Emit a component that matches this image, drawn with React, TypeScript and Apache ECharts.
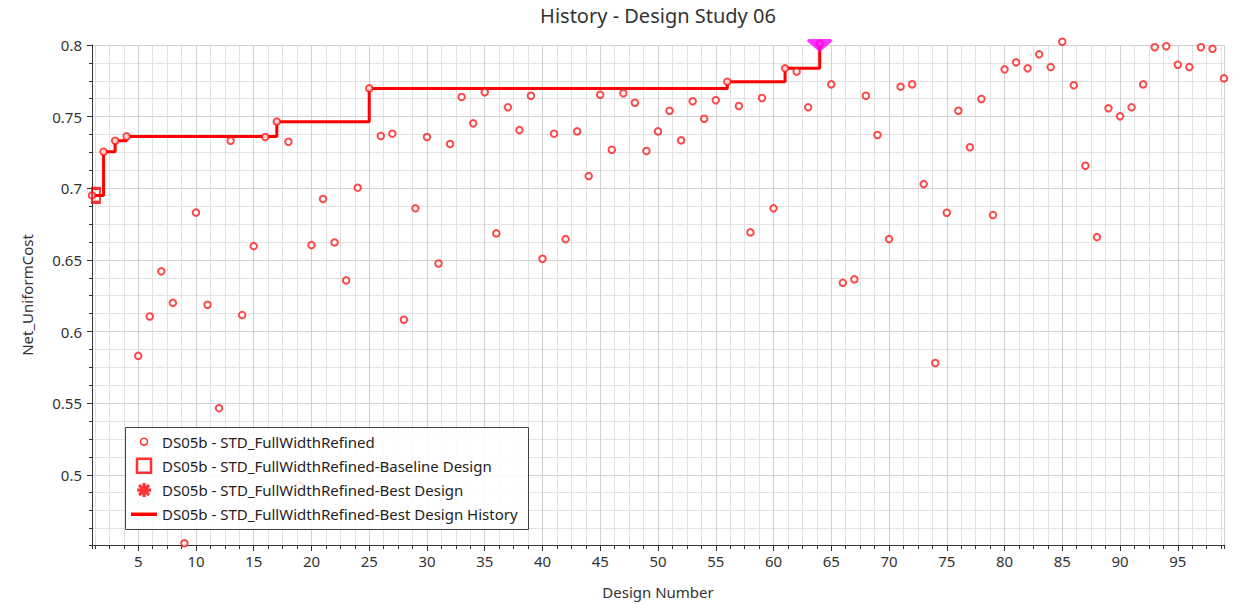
import React, { useEffect, useRef } from 'react';
import * as echarts from 'echarts';

// Net_UniformCost for design numbers 1..99 (index 0 -> design 1)
const netUniformCost = [
  0.695, 0.7255, 0.7332, 0.7362, 0.583, 0.6105, 0.642, 0.620, 0.4522, 0.683,
  0.6187, 0.5465, 0.7332, 0.6115, 0.6596, 0.7358, 0.7465, 0.7325, 0.4923, 0.6603,
  0.6925, 0.6622, 0.6357, 0.7004, 0.7697, 0.7365, 0.7381, 0.6082, 0.686, 0.7358,
  0.6475, 0.7309, 0.7637, 0.7453, 0.767, 0.6685, 0.7565, 0.7406, 0.7646, 0.6508,
  0.7381, 0.6645, 0.7397, 0.7085, 0.7653, 0.7269, 0.7663, 0.7597, 0.726, 0.7397,
  0.7541, 0.7334, 0.7607, 0.7485, 0.7614, 0.7744, 0.7574, 0.6692, 0.763, 0.686,
  0.7837, 0.7814, 0.7565, 0.801, 0.7725, 0.634, 0.6364, 0.7646, 0.7372, 0.6645,
  0.7709, 0.7725, 0.7029, 0.578, 0.6829, 0.7541, 0.7286, 0.7623, 0.6813, 0.783,
  0.7879, 0.7837, 0.7935, 0.7846, 0.8023, 0.7719, 0.7157, 0.6659, 0.7558, 0.7502,
  0.7565, 0.7725, 0.7984, 0.7991, 0.7862, 0.7846, 0.7984, 0.7974, 0.7767,
];

// designs where the best value improved
const bestHistoryDesigns = [1, 2, 3, 4, 17, 25, 56, 61, 64];
const baselineDesign = 1;
const bestDesign = 64;

const seriesNames = [
  'DS05b - STD_FullWidthRefined',
  'DS05b - STD_FullWidthRefined-Baseline Design',
  'DS05b - STD_FullWidthRefined-Best Design',
  'DS05b - STD_FullWidthRefined-Best Design History',
];

const titleText = 'History - Design Study 06';
const xAxisName = 'Design Number';
const yAxisName = 'Net_UniformCost';

const FONT = '"Noto Sans", sans-serif';
const RED = '#ff0000';

export default function App() {
  const ref = useRef<HTMLDivElement>(null);

  useEffect(() => {
    const chart = echarts.init(ref.current as HTMLDivElement, null, { renderer: 'svg' });

    const designData = netUniformCost.map((v, i) => [i + 1, v]);
    const baselineData = [[baselineDesign, netUniformCost[baselineDesign - 1]]];
    const bestData = [[bestDesign, netUniformCost[bestDesign - 1]]];
    const historyData = bestHistoryDesigns.map((d) => [d, netUniformCost[d - 1]]);

    const gridTop = 45;
    const gridBottom = 59;
    const gridLeft = 92;
    const gridRight = 11;
    const gridH = 604 - gridTop - gridBottom;
    const gridW = 1235 - gridLeft - gridRight;

    const legendCommon = {
      orient: 'vertical',
      padding: 0,
      itemGap: 0,
      itemWidth: 26,
      selectedMode: false,
      z: 10,
      textStyle: { fontSize: 15, color: '#1e1e1e', lineHeight: 17, fontFamily: FONT },
    };

    const option: any = {
      animation: false,
      backgroundColor: '#ffffff',
      title: {
        text: titleText,
        left: 653,
        top: 0,
        textAlign: 'center',
        textStyle: { fontSize: 20, fontWeight: 'normal', color: '#333', fontFamily: FONT },
      },
      grid: { left: gridLeft, right: gridRight, top: gridTop, bottom: gridBottom, containLabel: false },
      xAxis: [
        {
          type: 'value',
          min: 1,
          max: 99,
          splitNumber: 20,
          minInterval: 5,
          maxInterval: 5,
          z: 1,
          name: xAxisName,
          nameLocation: 'middle',
          nameGap: 39,
          nameTextStyle: { fontSize: 15, color: '#333', fontFamily: FONT },
          axisLine: { show: true, onZero: false, lineStyle: { color: '#333', width: 1 } },
          axisTick: { show: true, length: 6, lineStyle: { color: '#333' } },
          axisLabel: { fontSize: 15, color: '#333', margin: 8, fontFamily: FONT, showMinLabel: false, showMaxLabel: false },
          splitLine: { show: true, lineStyle: { color: '#d0d0d0', width: 1 } },
        },
        {
          type: 'value',
          min: 1,
          max: 99,
          splitNumber: 80,
          minInterval: 1.25,
          maxInterval: 1.25,
          position: 'top',
          offset: -gridH,
          z: 0,
          axisLine: { show: false, onZero: false },
          axisTick: { show: true, inside: true, length: 4, lineStyle: { color: '#333' } },
          axisLabel: { show: false },
          splitLine: { show: true, lineStyle: { color: '#e2e2e2', width: 1 } },
        },
      ],
      yAxis: [
        {
          type: 'value',
          min: 0.451,
          max: 0.8,
          splitNumber: 7,
          minInterval: 0.05,
          maxInterval: 0.05,
          z: 1,
          name: yAxisName,
          nameLocation: 'middle',
          nameRotate: 90,
          nameGap: 58,
          nameTextStyle: { fontSize: 15, color: '#333', fontFamily: FONT },
          axisLine: { show: true, onZero: false, lineStyle: { color: '#333', width: 1 } },
          axisTick: { show: true, length: 5, lineStyle: { color: '#333' } },
          axisLabel: { fontSize: 15, color: '#333', margin: 10, fontFamily: FONT, showMinLabel: false },
          splitLine: { show: true, lineStyle: { color: '#d0d0d0', width: 1 } },
        },
        {
          type: 'value',
          min: 0.451,
          max: 0.8,
          splitNumber: 28,
          minInterval: 0.0125,
          maxInterval: 0.0125,
          position: 'right',
          offset: -gridW,
          z: 0,
          axisLine: { show: false, onZero: false },
          axisTick: { show: true, inside: true, length: 3, lineStyle: { color: '#333' } },
          axisLabel: { show: false },
          splitLine: { show: true, lineStyle: { color: '#e2e2e2', width: 1 } },
        },
      ],
      legend: [
        {
          ...legendCommon,
          data: [seriesNames[0]],
          left: 131 + 8.75,
          top: 441.7 - 8.5,
          itemHeight: 7,
          icon: 'circle',
          itemStyle: { color: '#ffffff', borderColor: RED, borderWidth: 1.5 },
        },
        {
          ...legendCommon,
          data: [seriesNames[1]],
          left: 131 + 4.75,
          top: 465.7 - 8.5,
          itemHeight: 14,
          icon: 'path://M0 0H14V14H0Z',
          itemStyle: { color: '#ffffff', borderColor: RED, borderWidth: 2.5 },
        },
        {
          ...legendCommon,
          data: [seriesNames[2]],
          left: 131 + 4.5,
          top: 490 - 8.5,
          itemHeight: 14,
          icon: 'path://M7 -1V15M-1 7H15M1.3 1.3L12.7 12.7M12.7 1.3L1.3 12.7',
          itemStyle: { color: RED, borderColor: RED, borderWidth: 3.2 },
        },
        {
          ...legendCommon,
          data: [seriesNames[3]],
          left: 131,
          top: 514.3 - 8.5,
          itemHeight: 3.5,
          icon: 'rect',
          itemStyle: { color: RED, borderWidth: 0 },
        },
      ],
      graphic: [
        {
          type: 'rect',
          z: 9,
          shape: { x: 125.5, y: 427.5, width: 403, height: 102 },
          style: { fill: 'rgba(255,255,255,0.86)', stroke: '#444', lineWidth: 1 },
        },
      ],
      series: [
        {
          name: seriesNames[3],
          type: 'line',
          step: 'end',
          data: historyData,
          symbol: 'none',
          clip: false,
          z: 2,
          lineStyle: { color: RED, width: 3 },
          itemStyle: { color: RED },
        },
        {
          name: seriesNames[0],
          type: 'scatter',
          data: designData,
          symbol: 'emptyCircle',
          symbolSize: 6.5,
          clip: false,
          z: 3,
          itemStyle: { color: '#ff1a1a', borderWidth: 1.3 },
        },
        {
          name: seriesNames[1],
          type: 'scatter',
          data: baselineData,
          symbol: 'rect',
          symbolSize: [8, 14],
          symbolOffset: [4, 0],
          clip: false,
          z: 4,
          itemStyle: { color: 'rgba(0,0,0,0)', borderColor: RED, borderWidth: 2.5 },
        },
        {
          name: seriesNames[2],
          type: 'scatter',
          data: bestData,
          symbol: 'path://M2 0H24L26 2L13 13L0 2Z',
          symbolSize: [26, 13],
          symbolOffset: [0, 2],
          clip: false,
          z: 5,
          itemStyle: { color: '#ff00ff' },
        },
      ],
    };

    chart.setOption(option);
    return () => chart.dispose();
  }, []);

  return (
    <div
      ref={ref}
      style={{ position: 'fixed', left: 0, top: 0, width: 1235, height: 604, background: '#fff' }}
    />
  );
}
